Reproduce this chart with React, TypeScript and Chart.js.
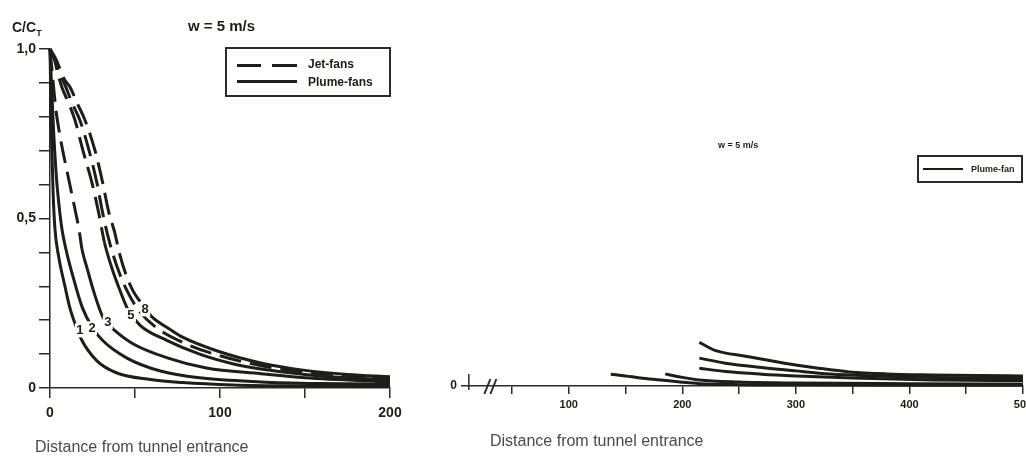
import React, { useEffect, useRef } from "react";
import { Chart, registerables } from "chart.js";

Chart.register(...registerables);

// ---------- Left panel data (distance 0..200, C/C_T) ----------
const leftXTicks = [0, 50, 100, 150, 200];
const leftXTickLabels = ["0", "", "100", "", "200"];
const leftYTicks = [0, 0.1, 0.2, 0.3, 0.4, 0.5, 0.6, 0.7, 0.8, 0.9, 1.0];
const leftYTickLabels = ["0", "", "", "", "", "0,5", "", "", "", "", "1,0"];

const curve1X = [0, 0.5, 1, 1.8, 2.9, 5, 8.8, 11.5, 14.7, 18.8, 27.6, 39, 59, 78, 108, 150, 200];
const curve1Y = [1, 0.85, 0.72, 0.58, 0.47, 0.39, 0.3, 0.24, 0.19, 0.14, 0.08, 0.045, 0.025, 0.016, 0.009, 0.006, 0.005];

const curve2X = [0, 1, 2.2, 3.8, 5.5, 7, 9.8, 12.9, 18.8, 24.7, 31, 45, 65, 88, 124, 160, 200];
const curve2Y = [1, 0.88, 0.75, 0.62, 0.53, 0.47, 0.4, 0.34, 0.24, 0.18, 0.14, 0.089, 0.05, 0.03, 0.018, 0.013, 0.011];

const curve3X = [0, 1.5, 3.5, 6, 7.5, 10, 12.5, 15, 17, 18.8, 22, 26, 31, 34, 38, 49, 69, 92, 124, 150, 200];
const curve3Y = [1, 0.92, 0.82, 0.74, 0.7, 0.64, 0.58, 0.52, 0.47, 0.41, 0.35, 0.28, 0.21, 0.19, 0.17, 0.13, 0.089, 0.059, 0.042, 0.03, 0.018];

const curve5X = [0, 2.5, 4.5, 7, 11, 14.7, 19.4, 24.7, 28.5, 32, 36, 41, 46, 53, 69, 88, 108, 124, 150, 175, 200];
const curve5Y = [1, 0.97, 0.93, 0.887, 0.84, 0.79, 0.7, 0.605, 0.52, 0.43, 0.36, 0.29, 0.23, 0.185, 0.14, 0.1, 0.071, 0.056, 0.04, 0.03, 0.025];

const curve8X = [0, 3, 6, 8.5, 11.8, 16, 20.6, 26.5, 31, 34.5, 38, 41, 45, 49, 53, 56, 60, 70, 78, 98, 124, 150, 175, 200];
const curve8Y = [1, 0.975, 0.94, 0.91, 0.887, 0.84, 0.79, 0.7, 0.605, 0.52, 0.46, 0.395, 0.33, 0.285, 0.255, 0.235, 0.21, 0.175, 0.15, 0.11, 0.074, 0.052, 0.04, 0.033];

const jetMidX = [0, 2.8, 5.5, 9.4, 13, 17.6, 23, 27.6, 31, 35, 40, 45, 52, 62, 80, 100, 125, 150, 200];
const jetMidY = [1, 0.97, 0.93, 0.887, 0.84, 0.79, 0.7, 0.605, 0.516, 0.43, 0.35, 0.29, 0.23, 0.18, 0.13, 0.095, 0.065, 0.047, 0.03];

// distance up to which each curve is drawn as a jet-fan (dashed) line
const curveNames = ["1", "2", "3", "5", "8", "jet"];
const curveDashedUntil = [0, 0, 18.8, 32, 56, 1000];

const curveLabelText = ["1", "2", "3", "5", "8"];
const curveLabelX = [17.6, 24.7, 34, 47.6, 56];
const curveLabelY = [0.17, 0.176, 0.194, 0.215, 0.232];

// ---------- Right panel data (distance with axis break, 0..500) ----------
const rightXTicks = [50, 100, 150, 200, 250, 300, 350, 400, 450, 500];
const rightXTickLabels = ["", "100", "", "200", "", "300", "", "400", "", "500"];

const right1X = [215, 228, 257, 290, 320, 347, 380, 420, 460, 500];
const right1Y = [0.13, 0.107, 0.088, 0.068, 0.053, 0.042, 0.036, 0.033, 0.031, 0.03];
const right2X = [215, 238, 270, 300, 330, 370, 420, 500];
const right2Y = [0.083, 0.068, 0.055, 0.045, 0.036, 0.03, 0.025, 0.022];
const right3X = [215, 238, 270, 300, 350, 420, 500];
const right3Y = [0.053, 0.043, 0.035, 0.03, 0.024, 0.018, 0.016];
const right4X = [137, 150, 163, 181, 198, 215, 250, 300, 400, 500];
const right4Y = [0.035, 0.03, 0.024, 0.018, 0.012, 0.007, 0.004, 0.003, 0.002, 0.002];
const right5X = [185, 198, 215, 250, 300, 400, 500];
const right5Y = [0.036, 0.027, 0.018, 0.012, 0.009, 0.007, 0.006];

const INK = "#1e1e18";
const AXIS = "#2a2a2a";
const FONT = '"Liberation Sans", Arial, sans-serif';

function pts(xs: number[], ys: number[]) {
  return xs.map((x, i) => ({ x, y: ys[i] }));
}

const leftCurves = [
  [curve1X, curve1Y],
  [curve2X, curve2Y],
  [curve3X, curve3Y],
  [curve5X, curve5Y],
  [curve8X, curve8Y],
  [jetMidX, jetMidY],
];

const rightCurves = [
  [right1X, right1Y],
  [right2X, right2Y],
  [right3X, right3Y],
  [right4X, right4Y],
  [right5X, right5Y],
];

const curveLabelPlugin = {
  id: "curveLabels",
  afterDatasetsDraw(chart: any) {
    const { ctx, scales } = chart;
    ctx.save();
    ctx.font = `bold 13px ${FONT}`;
    ctx.textAlign = "center";
    ctx.textBaseline = "middle";
    curveLabelText.forEach((t, i) => {
      const px = scales.x.getPixelForValue(curveLabelX[i]);
      const py = scales.y.getPixelForValue(curveLabelY[i]);
      ctx.fillStyle = "#ffffff";
      ctx.fillRect(px - 5, py - 7, 10, 14);
      ctx.fillStyle = INK;
      ctx.fillText(t, px, py);
    });
    ctx.restore();
  },
};

const axisBreakPlugin = {
  id: "axisBreak",
  afterDraw(chart: any) {
    const { ctx, scales } = chart;
    const y0 = scales.y.getPixelForValue(0);
    const stubX = scales.x.getPixelForValue(12);
    const bx = scales.x.getPixelForValue(31);
    ctx.save();
    ctx.strokeStyle = AXIS;
    ctx.lineWidth = 1.5;
    ctx.beginPath();
    ctx.moveTo(stubX, y0 - 12);
    ctx.lineTo(stubX, y0 + 4);
    ctx.stroke();
    ctx.lineWidth = 2;
    for (const off of [-3, 3]) {
      ctx.beginPath();
      ctx.moveTo(bx + off - 3, y0 + 8);
      ctx.lineTo(bx + off + 3, y0 - 7);
      ctx.stroke();
    }
    ctx.restore();
  },
};

function leftConfig(): any {
  return {
    type: "line",
    data: {
      datasets: leftCurves.map(([xs, ys], i) => ({
        label: curveNames[i],
        data: pts(xs, ys),
        borderColor: INK,
        borderWidth: 3,
        pointRadius: 0,
        fill: false,
        clip: false,
        cubicInterpolationMode: "monotone",
        segment: {
          borderDash: (ctx: any) =>
            ctx.p0.parsed.x < curveDashedUntil[i] - 1e-9 ? [22, 9] : undefined,
        },
      })),
    },
    options: {
      responsive: false,
      animation: false,
      events: [],
      layout: { padding: { top: 49, right: 30, left: 0, bottom: 0 } },
      plugins: { legend: { display: false }, tooltip: { enabled: false } },
      scales: {
        x: {
          type: "linear",
          min: 0,
          max: 200,
          afterBuildTicks: (s: any) => {
            s.ticks = leftXTicks.map((v) => ({ value: v }));
          },
          afterFit: (s: any) => {
            s.height = 69;
            s.paddingLeft = 0;
            s.paddingRight = 0;
          },
          ticks: {
            autoSkip: false,
            maxRotation: 0,
            padding: 7,
            color: INK,
            font: { family: FONT, size: 14, weight: "bold" },
            callback: (_v: any, i: number) => leftXTickLabels[i],
          },
          grid: { display: true, drawOnChartArea: false, drawTicks: true, tickLength: 10, color: AXIS, lineWidth: 1.5 },
          border: { display: true, color: AXIS, width: 1.5 },
        },
        y: {
          type: "linear",
          min: 0,
          max: 1,
          afterBuildTicks: (s: any) => {
            s.ticks = leftYTicks.map((v) => ({ value: v }));
          },
          afterFit: (s: any) => {
            s.width = 50;
            s.paddingTop = 0;
            s.paddingBottom = 0;
          },
          ticks: {
            autoSkip: false,
            padding: 3,
            color: INK,
            font: { family: FONT, size: 14, weight: "bold" },
            callback: (_v: any, i: number) => leftYTickLabels[i],
          },
          grid: { display: true, drawOnChartArea: false, drawTicks: true, tickLength: 11, color: AXIS, lineWidth: 1.5 },
          border: { display: true, color: AXIS, width: 1.5 },
        },
      },
    },
    plugins: [curveLabelPlugin],
  };
}

function rightConfig(): any {
  return {
    type: "line",
    data: {
      datasets: rightCurves.map(([xs, ys], i) => ({
        label: "R" + (i + 1),
        data: pts(xs, ys),
        borderColor: INK,
        borderWidth: 3,
        pointRadius: 0,
        fill: false,
        clip: false,
        cubicInterpolationMode: "monotone",
      })),
    },
    options: {
      responsive: false,
      animation: false,
      events: [],
      layout: { padding: { top: 50, right: 3, left: 0, bottom: 0 } },
      plugins: { legend: { display: false }, tooltip: { enabled: false } },
      scales: {
        x: {
          type: "linear",
          min: 6,
          max: 500,
          afterBuildTicks: (s: any) => {
            s.ticks = rightXTicks.map((v) => ({ value: v }));
          },
          afterFit: (s: any) => {
            s.height = 71;
            s.paddingLeft = 0;
            s.paddingRight = 0;
          },
          ticks: {
            autoSkip: false,
            maxRotation: 0,
            padding: 4,
            color: INK,
            font: { family: FONT, size: 11, weight: "bold" },
            callback: (_v: any, i: number) => rightXTickLabels[i],
          },
          grid: { display: true, drawOnChartArea: false, drawTicks: true, tickLength: 8, color: AXIS, lineWidth: 1.5 },
          border: { display: true, color: AXIS, width: 1.5 },
        },
        y: {
          type: "linear",
          min: 0,
          max: 1,
          afterBuildTicks: (s: any) => {
            s.ticks = [{ value: 0 }];
          },
          afterFit: (s: any) => {
            s.width = 42;
            s.paddingTop = 0;
            s.paddingBottom = 0;
          },
          ticks: {
            autoSkip: false,
            padding: 5,
            color: INK,
            font: { family: FONT, size: 12, weight: "bold" },
            callback: () => "0",
          },
          grid: { display: false, drawTicks: false },
          border: { display: false },
        },
      },
    },
    plugins: [axisBreakPlugin],
  };
}

const abs = (left: number, top: number, extra: any = {}): any => ({
  position: "absolute",
  left,
  top,
  whiteSpace: "nowrap",
  lineHeight: 1,
  ...extra,
});

export default function App() {
  const leftRef = useRef<HTMLCanvasElement>(null);
  const rightRef = useRef<HTMLCanvasElement>(null);

  useEffect(() => {
    const l = new Chart(leftRef.current as HTMLCanvasElement, leftConfig());
    const r = new Chart(rightRef.current as HTMLCanvasElement, rightConfig());
    return () => {
      l.destroy();
      r.destroy();
    };
  }, []);

  return (
    <div
      style={{
        position: "fixed",
        left: 0,
        top: 0,
        width: 1026,
        height: 457,
        background: "#ffffff",
        fontFamily: FONT,
        color: INK,
        overflow: "hidden",
      }}
    >
      <canvas ref={leftRef} width={420} height={457} style={{ position: "absolute", left: 0, top: 0 }} />
      <canvas ref={rightRef} width={606} height={457} style={{ position: "absolute", left: 420, top: 0 }} />

      {/* left panel texts */}
      <div style={abs(12, 20, { fontWeight: "bold", fontSize: 14 })}>
        C/C<span style={{ fontSize: 9, position: "relative", top: 4 }}>T</span>
      </div>
      <div style={abs(188, 18, { fontWeight: "bold", fontSize: 15 })}>w = 5 m/s</div>
      <div
        style={abs(225, 47, {
          width: 166,
          height: 50,
          border: `2px solid ${AXIS}`,
          boxSizing: "border-box",
        })}
      >
        <div style={abs(10, 15, { width: 24, height: 3, background: INK })} />
        <div style={abs(45, 15, { width: 25, height: 3, background: INK })} />
        <div style={abs(10, 31, { width: 60, height: 3, background: INK })} />
        <div style={abs(81, 9, { fontWeight: "bold", fontSize: 12 })}>Jet-fans</div>
        <div style={abs(81, 27, { fontWeight: "bold", fontSize: 12 })}>Plume-fans</div>
      </div>
      <div style={abs(35, 439, { fontSize: 16, color: "#4a4a4a" })}>Distance from tunnel entrance</div>

      {/* right panel texts */}
      <div style={abs(718, 141, { fontWeight: "bold", fontSize: 9 })}>w = 5 m/s</div>
      <div
        style={abs(917, 155, {
          width: 106,
          height: 28,
          border: `2px solid ${AXIS}`,
          boxSizing: "border-box",
        })}
      >
        <div style={abs(4, 11, { width: 40, height: 2, background: INK })} />
        <div style={abs(52, 8, { fontWeight: "bold", fontSize: 9 })}>Plume-fan</div>
      </div>
      <div style={abs(490, 433, { fontSize: 16, color: "#4a4a4a" })}>Distance from tunnel entrance</div>
    </div>
  );
}
